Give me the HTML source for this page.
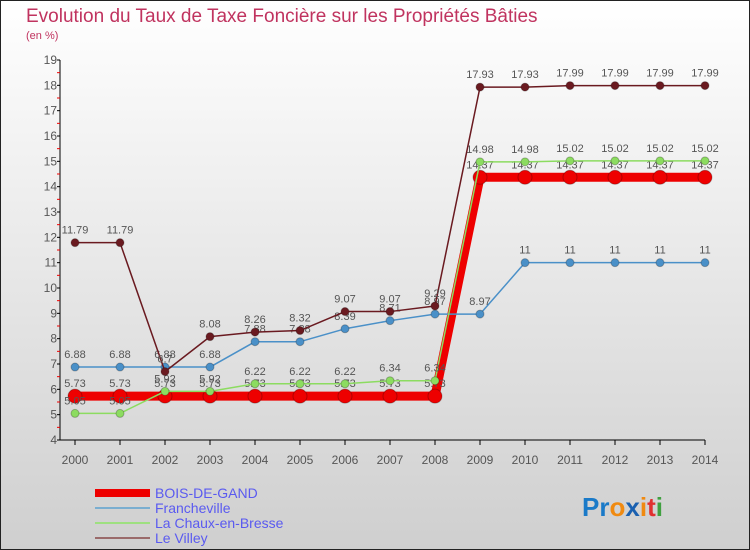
<!DOCTYPE html>
<html><head><meta charset="utf-8"><style>
body{margin:0;}
#c{width:750px;height:550px;position:relative;overflow:hidden;box-sizing:border-box;border:1px solid #222;background:linear-gradient(#fff,#cfcfcf);font-family:"Liberation Sans",sans-serif;}
svg text{font-family:"Liberation Sans",sans-serif;}
</style></head><body>
<div id="c">
<svg id="s" width="750" height="550" style="position:absolute;left:-1px;top:-1px">
<text x="26" y="22" font-size="19" fill="#c0335f">Evolution du Taux de Taxe Foncière sur les Propriétés Bâties</text>
<text x="26" y="39" font-size="11" fill="#c0335f">(en %)</text>
<g id="axes"></g><g id="series"></g>
<g>
<rect x="95" y="489" width="55" height="8" fill="#e00"/>
<text x="155" y="498" font-size="14" fill="#5a5af0">BOIS-DE-GAND</text>
<rect x="95" y="507" width="55" height="2" fill="#7aaed0"/>
<text x="155" y="513" font-size="14" fill="#5a5af0">Francheville</text>
<rect x="95" y="522" width="55" height="2" fill="#9ee080"/>
<text x="155" y="528" font-size="14" fill="#5a5af0">La Chaux-en-Bresse</text>
<rect x="95" y="537" width="55" height="2" fill="#9a6a6a"/>
<text x="155" y="543" font-size="14" fill="#5a5af0">Le Villey</text>
</g>
<g font-size="26" font-weight="bold">
<text x="582" y="516"><tspan fill="#1a7ac8">Pr</tspan><tspan fill="#f08a10">o</tspan><tspan fill="#1a60b0">x</tspan><tspan fill="#f08a10">i</tspan><tspan fill="#e03030">t</tspan><tspan fill="#40a040">i</tspan></text>
</g>
</svg>
</div>
<script>
const years=[2000,2001,2002,2003,2004,2005,2006,2007,2008,2009,2010,2011,2012,2013,2014];
const yTicks=[4,5,6,7,8,9,10,11,12,13,14,15,16,17,18,19];
const bois=[5.73,5.73,5.73,5.73,5.73,5.73,5.73,5.73,5.73,14.37,14.37,14.37,14.37,14.37,14.37];
const franch=[6.88,6.88,6.88,6.88,7.88,7.88,8.39,8.71,8.97,8.97,11,11,11,11,11];
const chaux=[5.05,5.05,5.92,5.92,6.22,6.22,6.22,6.34,6.34,14.98,14.98,15.02,15.02,15.02,15.02];
const villey=[11.79,11.79,6.7,8.08,8.26,8.32,9.07,9.07,9.29,17.93,17.93,17.99,17.99,17.99,17.99];
const NS='http://www.w3.org/2000/svg';
const X=i=>75+i*45, Y=v=>440-(v-4)*(380/15);
function mk(t,a,p){const e=document.createElementNS(NS,t);for(const k in a)e.setAttribute(k,a[k]);p.appendChild(e);return e;}
const ax=document.getElementById('axes'), sg=document.getElementById('series');
let e=mk('line',{x1:60,y1:60,x2:60,y2:440,stroke:'#000','stroke-width':1},ax);


e=mk('line',{x1:60,y1:440,x2:705,y2:440,stroke:'#000','stroke-width':1},ax);


yTicks.forEach(v=>{
 mk('line',{x1:57,y1:Y(v),x2:60,y2:Y(v),stroke:'#000'},ax);
 if(v<19)mk('line',{x1:57,y1:Y(v+0.5),x2:60,y2:Y(v+0.5),stroke:'#e00'},ax);
 const t=mk('text',{x:57,y:Y(v)+4,'font-size':12,fill:'#555','text-anchor':'end'},ax);
 t.textContent=v;
 
 
});
years.forEach((y,i)=>{
 mk('line',{x1:X(i),y1:440,x2:X(i),y2:445,stroke:'#000'},ax);
 const t=mk('text',{x:X(i),y:464,'font-size':12,fill:'#555','text-anchor':'middle'},ax);
 t.textContent=y;
 
 
});
function series(d,col,w,r,name,fmt){
 const g=mk('g',{},sg);
 
 
 mk('polyline',{points:d.map((v,i)=>X(i)+','+Y(v)).join(' '),fill:'none',stroke:col,'stroke-width':w,'stroke-linejoin':'round'},g);
 d.forEach((v,i)=>{
  const c=mk('circle',{cx:X(i),cy:Y(v),r:r,fill:col,stroke:'rgba(0,0,0,0.25)'},g);
  
  
  const t=mk('text',{x:X(i),y:Y(v)-9,'font-size':11,fill:'#555','text-anchor':'middle'},g);
  t.textContent=String(v);
  
  
 });
}
series(bois,'#e00',9,7,'bois');
series(franch,'#4a90c8',1.5,4,'francheville');
series(chaux,'#8cdc60',1.5,4,'chaux');
series(villey,'#6a1a20',1.5,4,'villey');
</script>
</body></html>
